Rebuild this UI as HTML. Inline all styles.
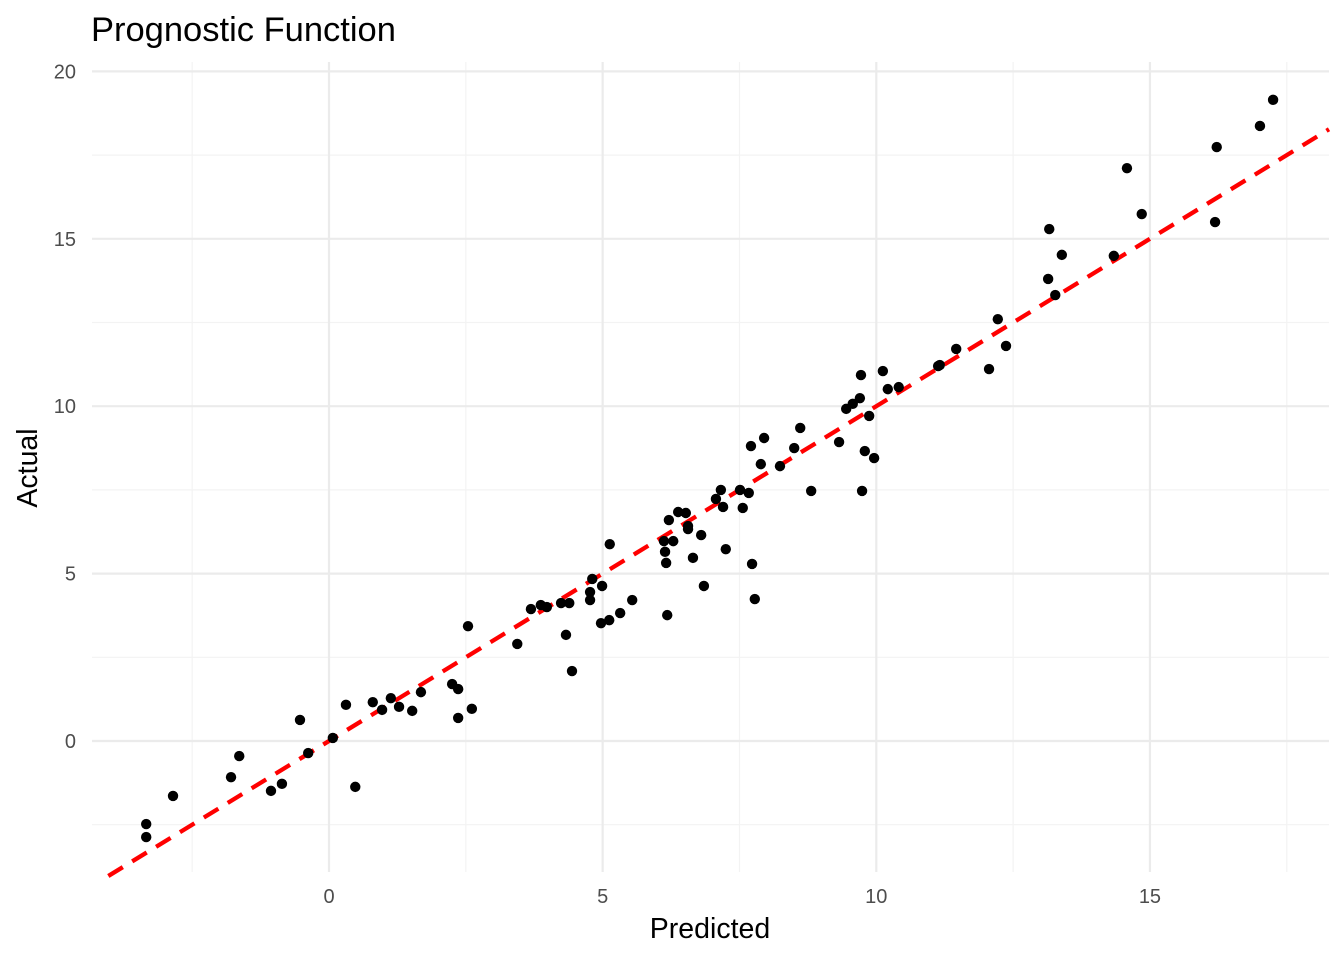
<!DOCTYPE html>
<html><head><meta charset="utf-8"><style>
body{margin:0;background:#fff}
svg text{font-family:"Liberation Sans",sans-serif}
</style></head><body>
<svg id="chart" width="1344" height="960" xmlns="http://www.w3.org/2000/svg">
<text x="91" y="41" font-size="34.5" fill="#000">Prognostic Function</text>
<text x="710" y="938" font-size="28.5" text-anchor="middle" fill="#000">Predicted</text>
<text transform="translate(37,468) rotate(-90)" font-size="28.5" text-anchor="middle" fill="#000">Actual</text>
<g id="grid"></g><g id="line"></g><g id="pts"></g><g id="ticks"></g>
</svg>
<script>
const predicted=[-3.34,-3.34,-2.85,-1.79,-1.64,-1.06,-0.86,-0.53,-0.38,0.07,0.31,0.48,0.80,0.97,1.13,1.28,1.52,1.68,2.25,2.36,2.36,2.54,2.61,3.44,3.69,3.87,3.98,4.24,4.33,4.39,4.44,4.77,4.77,4.81,4.97,4.99,5.12,5.13,5.32,5.54,6.12,6.14,6.16,6.18,6.21,6.29,6.38,6.52,6.56,6.56,6.65,6.80,6.85,7.07,7.16,7.20,7.25,7.51,7.56,7.67,7.71,7.73,7.78,7.89,7.95,8.24,8.50,8.61,8.81,9.32,9.45,9.57,9.70,9.72,9.74,9.79,9.87,9.96,10.12,10.21,10.41,11.13,11.16,11.46,12.06,12.22,12.37,13.14,13.16,13.27,13.39,14.34,14.58,14.85,16.19,16.22,17.01,17.25];
const actual=[-2.48,-2.87,-1.64,-1.08,-0.45,-1.49,-1.28,0.63,-0.36,0.09,1.08,-1.37,1.16,0.93,1.28,1.02,0.90,1.46,1.70,1.55,0.69,3.43,0.96,2.90,3.94,4.06,4.00,4.12,3.17,4.12,2.09,4.21,4.45,4.84,3.52,4.63,3.61,5.88,3.82,4.21,5.97,5.65,5.32,3.76,6.60,5.97,6.84,6.81,6.42,6.33,5.47,6.15,4.63,7.23,7.50,6.99,5.73,7.50,6.96,7.41,8.81,5.29,4.24,8.27,9.05,8.21,8.75,9.35,7.47,8.93,9.92,10.07,10.24,10.93,7.47,8.66,9.71,8.45,11.05,10.51,10.57,11.20,11.23,11.71,11.11,12.60,11.80,13.80,15.29,13.32,14.52,14.49,17.11,15.74,15.50,17.74,18.37,19.15];
const xTicks=[0,5,10,15];
const yTicks=[0,5,10,15,20];
const xMinor=[-2.5,2.5,7.5,12.5,17.5];
const yMinor=[-2.5,2.5,7.5,12.5,17.5];
const X0=92,X1=1329,Y0=62,Y1=872;
const sx=v=>329+v*54.73, sy=v=>741-v*33.48;
const xmax=(X1-329)/54.73;
const NS='http://www.w3.org/2000/svg';
function mk(tag,parent,attrs){const e=document.createElementNS(NS,tag);for(const k in attrs)e.setAttribute(k,attrs[k]);document.getElementById(parent).appendChild(e);return e;}
xMinor.forEach(v=>{const e=mk('line','grid',{x1:sx(v),x2:sx(v),y1:Y0,y2:Y1,stroke:'#f3f3f3','stroke-width':1.2});

});
yMinor.forEach(v=>{const e=mk('line','grid',{x1:X0,x2:X1,y1:sy(v),y2:sy(v),stroke:'#f3f3f3','stroke-width':1.2});

});
xTicks.forEach(v=>{const e=mk('line','grid',{x1:sx(v),x2:sx(v),y1:Y0,y2:Y1,stroke:'#ebebeb','stroke-width':2.2});


const t=mk('text','ticks',{x:sx(v),y:903,'font-size':20,'text-anchor':'middle',fill:'#4d4d4d'});t.textContent=v;

});
yTicks.forEach(v=>{const e=mk('line','grid',{x1:X0,x2:X1,y1:sy(v),y2:sy(v),stroke:'#ebebeb','stroke-width':2.2});


const t=mk('text','ticks',{x:76,y:sy(v)+7,'font-size':20,'text-anchor':'end',fill:'#4d4d4d'});t.textContent=v;

});
const lx0=(741-876)/33.48;
const ln=mk('line','line',{x1:sx(lx0),y1:sy(lx0),x2:sx(xmax),y2:sy(xmax),stroke:'#ff0000','stroke-width':4.3,'stroke-dasharray':'17,11'});


predicted.forEach((p,i)=>{const c=mk('circle','pts',{cx:sx(p),cy:sy(actual[i]),r:5.2,fill:'#000'});

});
</script>
</body></html>
